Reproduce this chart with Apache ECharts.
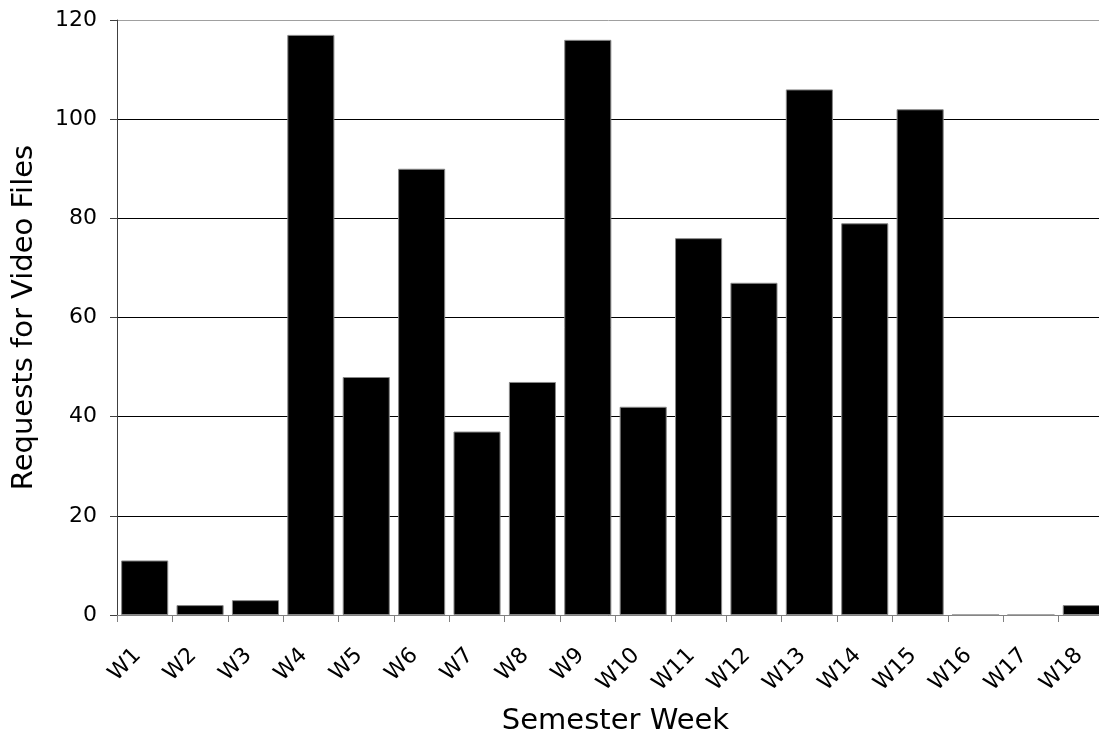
<!DOCTYPE html>
<html>
<head>
<meta charset="utf-8">
<script src="https://cdn.jsdelivr.net/npm/echarts@6/dist/echarts.min.js"></script>
<style>html,body{margin:0;padding:0;background:#fff;}#c{width:1099px;height:737px;}</style>
</head>
<body>
<div id="c"></div>
<script>
const weeks = ['W1','W2','W3','W4','W5','W6','W7','W8','W9','W10','W11','W12','W13','W14','W15','W16','W17','W18'];
const requests = [11, 2, 3, 117, 48, 90, 37, 47, 116, 42, 76, 67, 106, 79, 102, 0, 0, 2];
const yTicks = [0, 20, 40, 60, 80, 100, 120];

const chart = echarts.init(document.getElementById('c'));
const font = '"DejaVu Sans", Verdana, sans-serif';
chart.setOption({
  animation: false,
  backgroundColor: '#fff',
  grid: { left: 117, width: 997, top: 20, bottom: 122, containLabel: false, outerBoundsMode: 'none' },
  xAxis: {
    type: 'category',
    data: weeks,
    name: 'Semester Week',
    nameLocation: 'middle',
    nameGap: 92,
    nameTextStyle: { fontSize: 29, fontFamily: font, color: '#000' },
    axisLine: { lineStyle: { color: '#808080', width: 1 } },
    axisTick: { show: true, length: 7, lineStyle: { color: '#808080' } },
    axisLabel: { rotate: 45, fontSize: 22, fontFamily: font, color: '#000', margin: 30, interval: 0, padding: [0, 10, 8, 0] }
  },
  yAxis: {
    type: 'value',
    min: yTicks[0],
    max: yTicks[yTicks.length - 1],
    interval: 20,
    name: 'Requests for Video Files',
    nameLocation: 'middle',
    nameGap: 78,
    nameTextStyle: { fontSize: 29, fontFamily: font, color: '#000' },
    axisLine: { show: true, lineStyle: { color: '#404040', width: 1 } },
    axisTick: { show: true, length: 7, lineStyle: { color: '#404040' } },
    axisLabel: { fontSize: 22, fontFamily: font, color: '#000', margin: 20 },
    splitLine: { show: true, lineStyle: { color: ['#000','#000','#000','#000','#000','#000','#a0a0a0'], width: 1 } }
  },
  series: [{
    type: 'bar',
    data: requests,
    barCategoryGap: '15%',
    itemStyle: { color: '#000', borderColor: '#888', borderWidth: 1 }
  }]
});
</script>
</body>
</html>
